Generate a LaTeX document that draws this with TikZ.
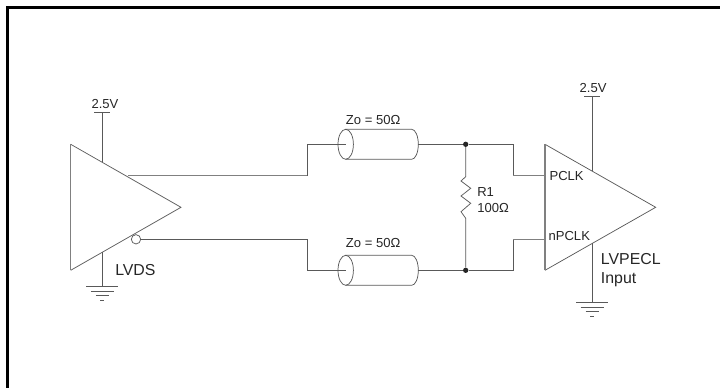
\documentclass[tikz,border=0pt]{standalone}
\usepackage{fontspec}
\setmainfont{Liberation Sans}
\usetikzlibrary{positioning}

\begin{document}
\begin{tikzpicture}[
		x=0.75pt, y=-0.75pt,
		wire/.style={draw=black!65, line width=0.55pt},
		bus/.style={draw=black!50, line width=0.85pt},
		label/.style={inner sep=0pt, text=black!85, font=\fontsize{9.8pt}{11pt}\selectfont},
		biglabel/.style={inner sep=0pt, text=black!85, font=\fontsize{11.9pt}{13pt}\selectfont},
		dot/.style={circle, fill=black!85, inner sep=0pt, minimum size=4pt}
	]
	\useasboundingbox (0,0) rectangle (720,388);

	% Frame
	\coordinate (framea) at (7.5,388);
	\coordinate (frameb) at (7.5,7.5);
	\coordinate (framec) at (720,7.5);
	\draw[line width=2.3pt, line cap=butt] (framea) -- (frameb) -- (framec);

	% Corner points of the two amplifiers
	\coordinate (lvdsa) at (70.7,144.3);
	\coordinate (lvdsb) at (70.7,270.3);
	\coordinate (lvdsc) at (181,207.3);
	\coordinate (inputa) at (545,144.3);
	\coordinate (inputb) at (545,270.3);
	\coordinate (inputc) at (655.7,207.3);
	\draw[wire] (lvdsb) -- (lvdsc) -- (lvdsa);
	\draw[bus] (lvdsa) -- (lvdsb);
	\draw[wire] (inputa) -- (inputc) -- (inputb);
	\draw[bus] (inputa) -- (inputb);

	% Supplies
	\coordinate (lvdsvcc) at (102.3,112.3);
	\coordinate (lvdsvcctop) at (102.3,162.3);
	\coordinate (lvdsgndtop) at (102.3,252.3);
	\coordinate (lvdsgnd) at (102.3,286.3);
	\coordinate (inputvcc) at (592,96.7);
	\coordinate (inputvcctop) at (592,171.2);
	\coordinate (inputgndtop) at (592,243.4);
	\coordinate (inputgnd) at (592,302.3);
	\draw[wire] (lvdsvcc) -- (lvdsvcctop);
	\draw[wire] (lvdsgndtop) -- (lvdsgnd);
	\draw[wire] (inputvcc) -- (inputvcctop);
	\draw[wire] (inputgndtop) -- (inputgnd);
	\foreach \vcc/\shift in {lvdsvcc/2pt, inputvcc/0.8pt} {
		\draw[wire] (\vcc) ++(-8,0) -- ++(16,0);
		\node[label, above=2.6pt of \vcc, xshift=\shift] (\vcc label) {2.5V};
	}
	\foreach \gnd in {lvdsgnd, inputgnd} {
		\draw[wire] (\gnd) ++(-16,0) -- ++(32,0);
		\draw[wire] (\gnd) ++(-11.5,4.7) -- ++(23,0);
		\draw[wire] (\gnd) ++(-6.5,9.4) -- ++(13,0);
		\draw[wire] (\gnd) ++(-2,14) -- ++(4,0);
	}

	% Transmission lines
	\foreach \tl/\ypos/\lift in {tla/144.3/24.3, tlb/270.3/27} {
		\coordinate (\tl in) at (345.7,\ypos);
		\coordinate (\tl out) at (418.3,\ypos);
		\draw[wire] (\tl in) ellipse [x radius=7.7, y radius=15];
		\draw[wire] (345.7,\ypos-15) -- (411.7,\ypos-15) arc [start angle=-90, end angle=90, x radius=6.6, y radius=15] -- (345.7,\ypos+15);
		\node[label, anchor=west] (\tl label) at (345.7,\ypos-\lift) {Zo = 50Ω};
	}

	% Bias points and junctions
	\coordinate (outa) at (307.7,175.7);
	\coordinate (outb) at (136,239.3);
	\coordinate (ina) at (513.3,175.7);
	\coordinate (inb) at (513.3,239.3);
	\node[dot] (juna) at (465.7,144.3) {};
	\node[dot] (junb) at (465.7,270.3) {};
	\node[circle, draw=black!65, line width=0.55pt, fill=white, inner sep=0pt, minimum size=7pt] (bubble) at (outb) {};

	% Connections
	\draw[bus] (128,175.7) -- (outa);
	\draw[wire] (outa) -- (307.7,144.3) -- (tlain);
	\draw[wire] (bubble) -- (307.7,239.3) -- (307.7,270.3) -- (tlbin);
	\draw[wire] (tlaout) -- (juna) -- (ina |- juna) -- (ina);
	\draw[wire] (tlbout) -- (junb) -- (inb |- junb) -- (inb);
	\draw[bus] (ina) -- (ina -| inputa);
	\draw[bus] (inb) -- (inb -| inputa);

	% Resistor
	\draw[wire] (juna) -- (465.7,176.7) -- (461,181) -- (470.7,188.3) -- (461,196) -- (470.7,203.3) -- (461,211.7) -- (465.7,218.3) -- (junb);

	% Annotations
	\node[label, anchor=west] (rname) at (477,192) {R1};
	\node[label, anchor=west] (rvalue) at (477,207.7) {100Ω};
	\node[label, anchor=west] (pclk) at (549.3,175.7) {PCLK};
	\node[label, anchor=west] (npclk) at (548.3,236) {nPCLK};
	\node[biglabel, anchor=west] (lvds) at (115,270) {LVDS};
	\node[biglabel, anchor=west] (lvpecl) at (600.7,259) {LVPECL};
	\node[biglabel, anchor=west] (input) at (600.7,280) {Input};
\end{tikzpicture}
\end{document}
